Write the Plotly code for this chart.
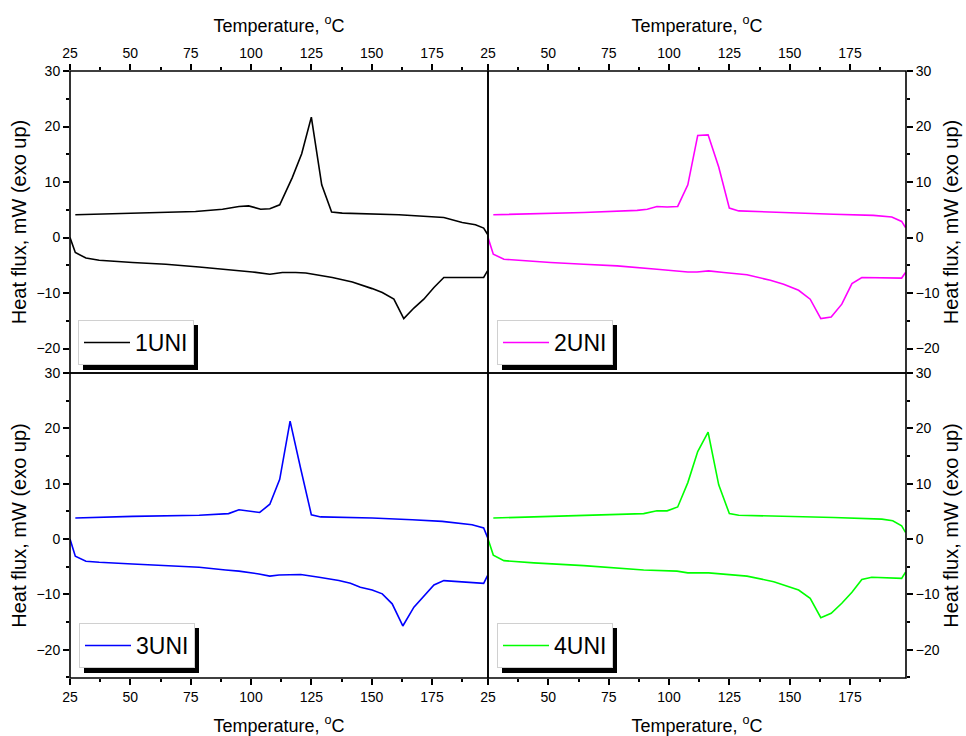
import plotly.graph_objects as go

# ---------------- data ----------------
names = ["1UNI", "2UNI", "3UNI", "4UNI"]
colors = ["#000000", "#ff00ff", "#0000ff", "#00ff00"]

# heating scans (lower curves)
T1_heat = [25.0, 27.2, 31.6, 37.1, 50.9, 64.7, 78.5, 92.3, 100.6, 107.8, 113.0, 118.5, 122.7, 133.7, 142.0, 150.2, 154.4, 159.2, 163.3, 167.5, 171.6, 175.8, 179.9, 188.9, 196.4, 198.0]
H1_heat = [0.0, -2.7, -3.7, -4.1, -4.5, -4.8, -5.3, -5.8, -6.2, -6.6, -6.3, -6.3, -6.4, -7.2, -8.0, -9.2, -9.9, -11.1, -14.6, -12.7, -11.1, -9.0, -7.2, -7.2, -7.2, -6.0]
# cooling scans (upper curves)
T1_cool = [198.0, 196.4, 193.0, 187.5, 179.9, 161.3, 137.8, 133.4, 129.3, 125.0, 121.0, 117.1, 111.9, 107.8, 104.0, 99.0, 95.0, 91.0, 88.2, 77.0, 27.2]
H1_cool = [0.6, 1.7, 2.3, 2.7, 3.6, 4.1, 4.4, 4.6, 9.5, 21.7, 15.1, 10.8, 5.9, 5.2, 5.1, 5.7, 5.6, 5.3, 5.1, 4.7, 4.1]

T2_heat = [25.0, 27.2, 31.6, 39.9, 50.9, 64.7, 78.5, 95.0, 107.8, 111.6, 116.4, 122.7, 132.3, 142.0, 147.5, 153.7, 158.5, 162.9, 167.2, 171.6, 175.8, 179.9, 188.9, 196.4, 198.0]
H2_heat = [0.0, -3.0, -3.9, -4.2, -4.5, -4.8, -5.1, -5.7, -6.2, -6.2, -6.0, -6.3, -6.7, -7.7, -8.4, -9.5, -11.1, -14.6, -14.3, -12.0, -8.3, -7.2, -7.2, -7.3, -6.3]
T2_cool = [198.0, 196.4, 192.3, 184.7, 168.2, 147.5, 128.9, 125.0, 120.6, 116.2, 111.9, 107.8, 103.6, 99.2, 95.0, 91.0, 86.8, 64.7, 27.2]
H2_cool = [1.8, 2.9, 3.7, 4.0, 4.2, 4.5, 4.8, 5.3, 12.7, 18.5, 18.4, 9.5, 5.6, 5.5, 5.6, 5.1, 4.9, 4.5, 4.1]

T3_heat = [25.0, 27.2, 31.6, 37.1, 50.9, 64.7, 78.5, 89.5, 95.0, 103.3, 107.8, 111.6, 116.4, 120.6, 128.2, 136.4, 141.2, 145.3, 150.2, 154.4, 158.5, 162.9, 167.5, 171.6, 175.8, 179.9, 188.9, 196.4, 198.0]
H3_heat = [0.0, -3.1, -4.0, -4.2, -4.5, -4.8, -5.1, -5.6, -5.8, -6.3, -6.7, -6.5, -6.4, -6.4, -6.9, -7.5, -8.0, -8.7, -9.2, -9.9, -11.7, -15.7, -12.3, -10.4, -8.3, -7.5, -7.7, -8.0, -6.6]
T3_cool = [198.0, 196.4, 191.6, 179.2, 166.8, 150.2, 128.9, 125.0, 120.6, 116.2, 111.9, 107.8, 103.6, 99.5, 95.0, 90.7, 78.5, 50.9, 27.2]
H3_cool = [0.3, 2.0, 2.6, 3.2, 3.5, 3.8, 4.0, 4.4, 12.7, 21.3, 10.8, 6.3, 4.8, 5.1, 5.3, 4.6, 4.3, 4.1, 3.8]

T4_heat = [25.0, 27.2, 31.6, 44.0, 64.7, 89.5, 103.3, 107.8, 116.4, 132.3, 143.4, 153.7, 158.5, 162.9, 167.2, 171.6, 175.8, 179.9, 184.0, 196.4, 198.0]
H4_heat = [0.0, -2.9, -3.9, -4.3, -4.8, -5.6, -5.8, -6.1, -6.1, -6.7, -7.7, -9.2, -10.7, -14.2, -13.4, -11.6, -9.6, -7.3, -6.9, -7.1, -6.0]
T4_cool = [198.0, 196.4, 192.7, 188.2, 168.2, 148.9, 128.9, 125.0, 120.6, 116.2, 111.9, 107.8, 103.6, 99.2, 95.0, 89.5, 64.7, 44.0, 27.2]
H4_cool = [1.2, 2.4, 3.3, 3.6, 3.9, 4.1, 4.3, 4.6, 9.8, 19.3, 15.8, 10.2, 5.8, 5.1, 5.1, 4.6, 4.2, 4.0, 3.8]

x_ticks = [25, 50, 75, 100, 125, 150, 175]
y_ticks = [-20, -10, 0, 10, 20, 30]

heat_T = [T1_heat, T2_heat, T3_heat, T4_heat]
heat_H = [H1_heat, H2_heat, H3_heat, H4_heat]
cool_T = [T1_cool, T2_cool, T3_cool, T4_cool]
cool_H = [H1_cool, H2_cool, H3_cool, H4_cool]

# ---------------- figure ----------------
FONT = "Arial, 'Liberation Sans', sans-serif"
fig = go.Figure()

legend_ids = ["legend", "legend2", "legend3", "legend4"]
xa_ids = ["x", "x2", "x3", "x4"]
ya_ids = ["y", "y2", "y3", "y4"]
for i in range(4):
    xs = heat_T[i] + [None] + cool_T[i]
    ys = heat_H[i] + [None] + cool_H[i]
    fig.add_trace(go.Scatter(
        x=xs, y=ys, mode="lines", name=names[i],
        line=dict(color=colors[i], width=1.6),
        xaxis=xa_ids[i], yaxis=ya_ids[i],
        legend=legend_ids[i], showlegend=True,
    ))

XR = [25, 198.2]
yd_top = [305 / 607, 1.0]
yd_bot = [0.0, 305 / 607]
XT = "Temperature, <sup>o</sup>C"
YT = "Heat flux, mW (exo up)"


def xax(domain, anchor, side, standoff):
    return dict(domain=domain, anchor=anchor, side=side, range=XR,
                tickmode="array", tickvals=x_ticks,
                ticks="outside", ticklen=6, tickwidth=1.5, tickcolor="black",
                minor=dict(tickmode="linear", tick0=25, dtick=12.5, ticks="outside",
                           ticklen=3, tickwidth=1.5, tickcolor="black"),
                showline=False, showgrid=False, zeroline=False, automargin=False,
                tickfont=dict(size=14, color="black", family=FONT),
                title=dict(text=XT, standoff=standoff,
                           font=dict(size=18, color="black", family=FONT)))


def yax(domain, anchor, side, rng):
    return dict(domain=domain, anchor=anchor, side=side, range=rng,
                tickmode="array", tickvals=y_ticks,
                ticks="outside", ticklen=6, tickwidth=1.5, tickcolor="black",
                minor=dict(tickmode="linear", tick0=0, dtick=5, ticks="outside",
                           ticklen=3, tickwidth=1.5, tickcolor="black"),
                showline=False, showgrid=False, zeroline=False, automargin=False,
                tickfont=dict(size=14, color="black", family=FONT),
                title=dict(text=YT, standoff=4,
                           font=dict(size=20, color="black", family=FONT)))


YR_top = [-24.4, 30]
YR_bot = [-25.1, 30]

fig.update_layout(
    width=966, height=736,
    margin=dict(l=70, r=60, t=71, b=58, autoexpand=False),
    paper_bgcolor="white", plot_bgcolor="white",
    font=dict(family=FONT, color="black"),
    xaxis=xax([0, 0.5], "y", "top", 8),
    yaxis=yax(yd_top, "x", "left", YR_top),
    xaxis2=xax([0.5, 1], "y2", "top", 8),
    yaxis2=yax(yd_top, "x2", "right", YR_top),
    xaxis3=xax([0, 0.5], "y3", "bottom", 22),
    yaxis3=yax(yd_bot, "x3", "left", YR_bot),
    xaxis4=xax([0.5, 1], "y4", "bottom", 22),
    yaxis4=yax(yd_bot, "x4", "right", YR_bot),
)

# panel frames
for i in range(4):
    fig.add_shape(type="rect", xref=f"{xa_ids[i]} domain", yref=f"{ya_ids[i]} domain",
                  x0=0, x1=1, y0=0, y1=1, line=dict(color="black", width=1.6),
                  fillcolor="rgba(0,0,0,0)", layer="above")

# legends with drop shadow
leg_pos = [(78, 320), (497, 320), (79, 623), (497, 623)]
W, H = 115, 45
for i, (px, py) in enumerate(leg_pos):
    lx = (px - 70) / 836
    ly = (678 - py) / 607
    fig.update_layout({legend_ids[i]: dict(
        x=lx, y=ly, xanchor="left", yanchor="top",
        bgcolor="white", bordercolor="#d0d0d0", borderwidth=1,
        font=dict(size=23, color="black", family=FONT),
        itemwidth=46, tracegroupgap=0,
    )})
    fig.add_shape(type="rect", xref="paper", yref="paper",
                  x0=(px + 5 - 70) / 836, x1=(px + 5 + W - 70) / 836,
                  y0=(678 - (py + 5 + H)) / 607, y1=(678 - (py + 5)) / 607,
                  fillcolor="black", line=dict(width=0), layer="above")

fig.write_html("out.html",
               config={"displayModeBar": False},
               post_script="document.body.style.margin='0';document.body.style.overflow='hidden';")
